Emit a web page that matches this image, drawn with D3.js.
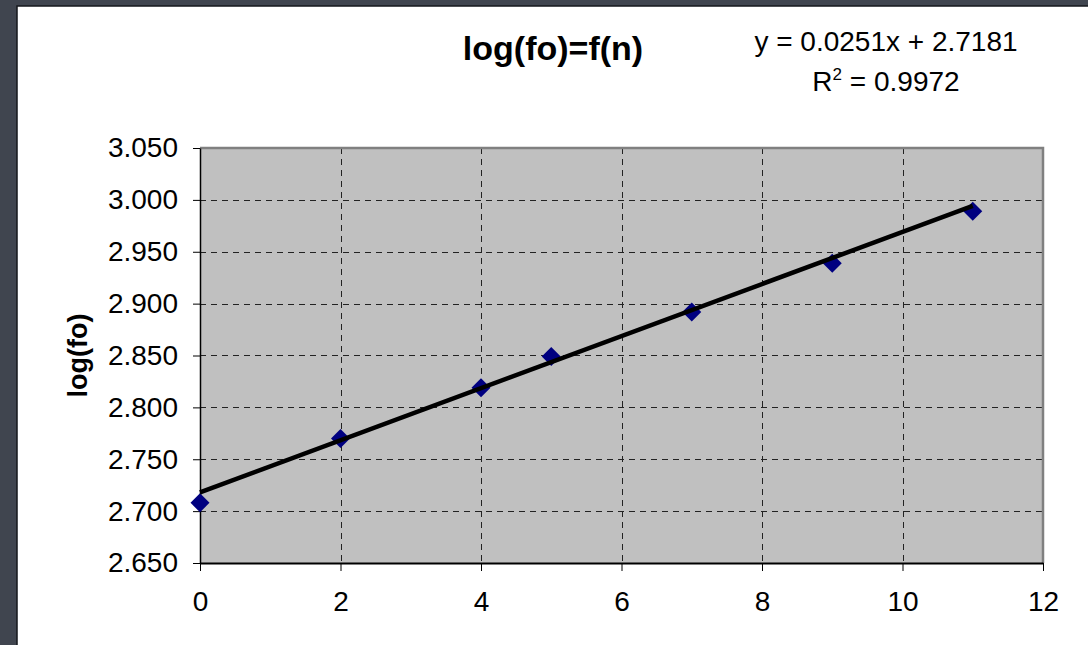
<!DOCTYPE html>
<html>
<head>
<meta charset="utf-8">
<script src="https://cdn.jsdelivr.net/npm/d3@7"></script>
<style>
  html, body { margin: 0; padding: 0; background: #40454f; }
  svg { display: block; }
  text { font-family: "Liberation Sans", Arial, sans-serif; fill: #000; }
</style>
</head>
<body>
<div id="chart"></div>
<script>
// data
const nValues = [0, 2, 4, 5, 7, 9, 11];
const logFo = [2.708, 2.770, 2.819, 2.849, 2.892, 2.939, 2.989];
const xTicks = [0, 2, 4, 6, 8, 10, 12];
const yTicks = [2.65, 2.70, 2.75, 2.80, 2.85, 2.90, 2.95, 3.00, 3.05];
const trendSlope = 0.0251;
const trendIntercept = 2.7181;
const titleText = "log(fo)=f(n)";
const yLabelText = "log(fo)";

const width = 1088;
const height = 645;

const svg = d3.select("#chart").append("svg")
  .attr("width", width)
  .attr("height", height);

// dark backdrop + white chart panel
svg.append("rect")
  .attr("width", width).attr("height", height)
  .attr("fill", "#40454f");
svg.append("rect")
  .attr("x", 17).attr("y", 6)
  .attr("width", width - 16).attr("height", height)
  .attr("fill", "#fff")
  .attr("stroke", "#15171c")
  .attr("stroke-width", 1.5);

// plot area
const plot = { left: 200, right: 1043, top: 148, bottom: 563 };

const x = d3.scaleLinear().domain([0, 12]).range([plot.left, plot.right]);
const y = d3.scaleLinear().domain([2.65, 3.05]).range([plot.bottom, plot.top]);

svg.append("rect")
  .attr("x", plot.left).attr("y", plot.top)
  .attr("width", plot.right - plot.left).attr("height", plot.bottom - plot.top)
  .attr("fill", "#c0c0c0");

// grid lines (dashed)
const grid = svg.append("g");
grid.selectAll(".hgrid")
  .data(yTicks.slice(1, -1))
  .enter().append("line")
  .attr("x1", plot.left).attr("x2", plot.right)
  .attr("y1", d => Math.round(y(d)) + 0.5).attr("y2", d => Math.round(y(d)) + 0.5)
  .attr("stroke", "#222").attr("stroke-width", 1)
  .attr("stroke-dasharray", "6,5");
grid.selectAll(".vgrid")
  .data(xTicks.slice(1, -1))
  .enter().append("line")
  .attr("y1", plot.top).attr("y2", plot.bottom)
  .attr("x1", d => Math.round(x(d)) + 0.5).attr("x2", d => Math.round(x(d)) + 0.5)
  .attr("stroke", "#222").attr("stroke-width", 1)
  .attr("stroke-dasharray", "6,5");

// plot border top/right gray
svg.append("path")
  .attr("d", `M${plot.left},${plot.top}H${plot.right}V${plot.bottom}`)
  .attr("fill", "none")
  .attr("stroke", "#808080")
  .attr("stroke-width", 2.5);

// axes
const yAxis = d3.axisLeft(y)
  .tickValues(yTicks)
  .tickFormat(d3.format(".3f"))
  .tickSizeInner(7).tickSizeOuter(0).tickPadding(15);
const gy = svg.append("g")
  .attr("transform", `translate(${plot.left},0)`)
  .call(yAxis);
gy.select(".domain").attr("stroke", "#000").attr("stroke-width", 1.5);
gy.selectAll(".tick line").attr("stroke", "#000");
gy.selectAll(".tick text")
  .attr("font-size", 28)
  .attr("font-family", "Liberation Sans, Arial, sans-serif")
  .attr("fill", "#000");

const xAxis = d3.axisBottom(x)
  .tickValues(xTicks)
  .tickSizeInner(8).tickSizeOuter(0).tickPadding(20);
const gx = svg.append("g")
  .attr("transform", `translate(0,${plot.bottom})`)
  .call(xAxis);
gx.select(".domain").attr("stroke", "#000").attr("stroke-width", 2);
gx.selectAll(".tick line").attr("stroke", "#000");
gx.selectAll(".tick text")
  .attr("font-size", 28)
  .attr("font-family", "Liberation Sans, Arial, sans-serif")
  .attr("fill", "#000");

// data markers (diamonds)
const points = nValues.map((n, i) => ({ n, v: logFo[i] }));
svg.selectAll(".pt")
  .data(points)
  .enter().append("path")
  .attr("d", d3.symbol().type(d3.symbolDiamond2).size(230))
  .attr("transform", d => `translate(${x(d.n)},${y(d.v)})`)
  .attr("fill", "#000080");

// linear trend line
const xMin = d3.min(nValues), xMax = d3.max(nValues);
svg.append("line")
  .attr("x1", x(xMin)).attr("y1", y(trendSlope * xMin + trendIntercept))
  .attr("x2", x(xMax)).attr("y2", y(trendSlope * xMax + trendIntercept))
  .attr("stroke", "#000")
  .attr("stroke-width", 4.5);

// title
svg.append("text")
  .attr("x", 553).attr("y", 60)
  .attr("text-anchor", "middle")
  .attr("font-size", 34)
  .attr("font-weight", "bold")
  .text(titleText);

// y axis label
svg.append("text")
  .attr("transform", `translate(87,${(plot.top + plot.bottom) / 2}) rotate(-90)`)
  .attr("text-anchor", "middle")
  .attr("font-size", 27)
  .attr("font-weight", "bold")
  .text(yLabelText);

// trend equation
const eq = svg.append("g").attr("font-size", 28);
eq.append("text")
  .attr("x", 886).attr("y", 51)
  .attr("text-anchor", "middle")
  .text(`y = ${trendSlope}x + ${trendIntercept}`);
const r2 = eq.append("text")
  .attr("x", 886).attr("y", 91)
  .attr("text-anchor", "middle");
r2.append("tspan").text("R");
r2.append("tspan").attr("font-size", 17).attr("dy", -11).text("2");
r2.append("tspan").attr("dy", 11).text(" = 0.9972");
</script>
</body>
</html>
